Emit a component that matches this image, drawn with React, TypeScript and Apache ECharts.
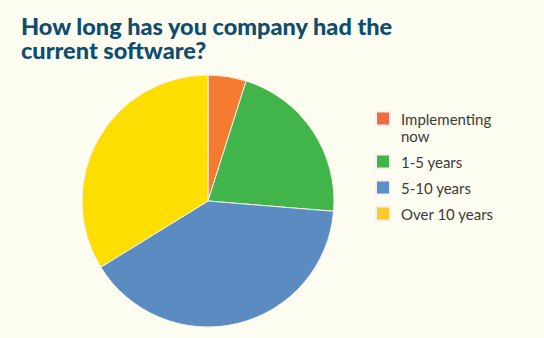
import React, { useEffect, useRef } from "react";
import * as echarts from "echarts";

const categories = ["Implementing\nnow", "1-5 years", "5-10 years", "Over 10 years"];
const values = [4.9, 21.4, 39.9, 33.8];
const sliceColors = ["#F47B2F", "#41B549", "#5A8CC2", "#FEDD00"];
const legendColors = ["#F26A44", "#41B549", "#5B8FC7", "#FEC92E"];
const titleText = "How long has you company had the\ncurrent software?";

export default function App() {
  const ref = useRef<HTMLDivElement>(null);
  useEffect(() => {
    if (!ref.current) return;
    const chart = echarts.init(ref.current, undefined, { renderer: "svg" });
    chart.setOption({
      animation: false,
      backgroundColor: "#FDFCF1",
      title: {
        text: titleText,
        left: 21,
        top: 14,
        padding: 0,
        textStyle: {
          fontFamily: "Lato",
          fontWeight: 900,
          fontSize: 23.5,
          lineHeight: 24,
          color: "#0E4D6E",
        },
      },
      legend: {
        orient: "vertical",
        left: 375,
        top: 93,
        padding: 0,
        itemWidth: 14,
        itemHeight: 14,
        itemGap: 9,
        icon: "rect",
        formatter: (name: string) => (name === categories[0] ? "\n" + name : name),
        textStyle: {
          fontFamily: "Lato",
          fontSize: 15,
          lineHeight: 17,
          color: "#3A3A3A",
          padding: [0, 0, 0, 6],
        },
        data: categories.map((name, i) => ({
          name,
          itemStyle: { color: legendColors[i] },
        })),
      },
      series: [
        {
          type: "pie",
          center: [208, 201],
          radius: 126,
          startAngle: 90,
          clockwise: true,
          label: { show: false },
          labelLine: { show: false },
          emphasis: { disabled: true },
          itemStyle: { borderColor: "#F4F2EA", borderWidth: 1 },
          data: categories.map((name, i) => ({
            name,
            value: values[i],
            itemStyle: { color: sliceColors[i] },
          })),
        },
      ],
    });
    return () => chart.dispose();
  }, []);
  return (
    <div
      ref={ref}
      style={{ position: "fixed", left: 0, top: 0, width: 544, height: 338 }}
    />
  );
}
